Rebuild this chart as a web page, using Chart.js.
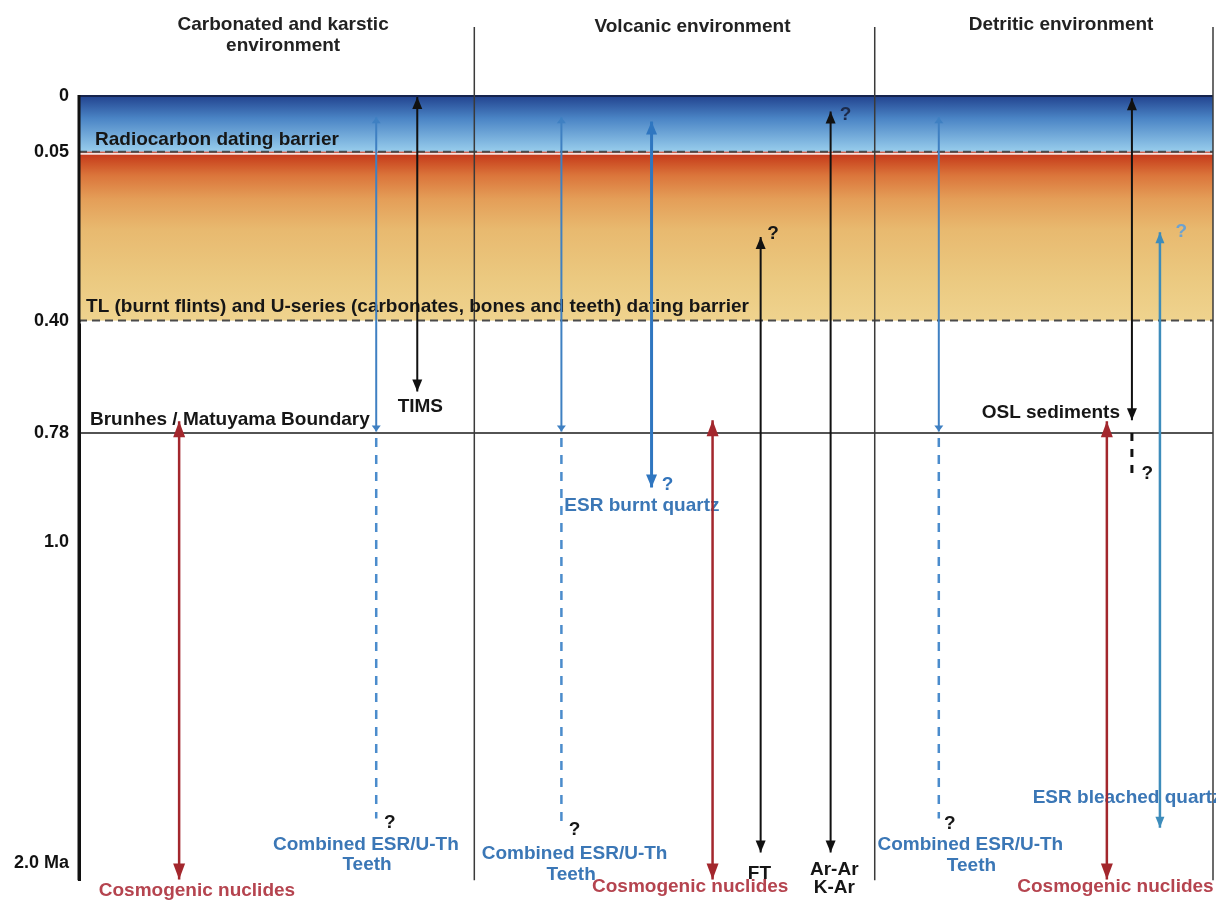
<!DOCTYPE html>
<html><head><meta charset="utf-8">
<script src="https://cdn.jsdelivr.net/npm/chart.js@4/dist/chart.umd.min.js"></script>
<style>html,body{margin:0;padding:0;background:#fff}#wrap{width:1216px;height:901px;position:relative}</style>
</head><body><div id="wrap"><canvas id="c"></canvas></div>
<script>
// ---------------- data ----------------
const tickValues = [0, 0.05, 0.40, 0.78, 1.0, 2.0];
const tickLabels = ['0', '0.05', '0.40', '0.78', '1.0', '2.0 Ma'];
const radiocarbonBarrier = 0.05;
const tlUseriesBarrier = 0.40;
const brunhesMatuyama = 0.78;
const envDividers = [34.86, 70.17, 100];   // lane units (0-100 across diagram)

const methodNames = ['Cosmogenic nuclides', 'Combined ESR/U-Th Teeth', 'TIMS',
  'Combined ESR/U-Th Teeth', 'ESR burnt quartz', 'Cosmogenic nuclides', 'FT', 'Ar-Ar K-Ar',
  'Combined ESR/U-Th Teeth', 'Cosmogenic nuclides', 'OSL sediments', 'ESR bleached quartz'];
const methodLane = [8.83, 26.21, 29.83, 42.54, 50.49, 55.87, 60.11, 66.28, 75.82, 90.64, 92.85, 95.32];
const minAge = [0.74, 0.019, 0.001, 0.019, 0.023, 0.737, 0.227, 0.014, 0.019, 0.74, 0.002, 0.217];
const maxAge = [2.05, 0.775, 0.64, 0.775, 0.89, 2.05, 1.966, 1.966, 0.775, 2.05, 0.737, 1.889];
const uncertainFrom = [null, 0.79, null, 0.79, null, null, null, null, 0.79, null, 0.78, null];
const uncertainTo = [null, 1.86, null, 1.87, null, null, null, null, 1.86, null, 0.866, null];
const methodKind = ['cosmo', 'esrTeeth', 'black', 'esrTeeth', 'esrQuartz', 'cosmo', 'black', 'black',
  'esrTeeth', 'cosmo', 'black', 'esrBleached'];

// ---------------- styles ----------------
const FONT = "'Liberation Sans', Arial, sans-serif";
const BLUE_TXT = '#3b77b6', RED_TXT = '#b5444f', BLK = '#161616';
const kindStyle = {
  cosmo:      { color: '#a3272d', width: 2.5, head: { len: 16, w: 12 }, dash: [8, 8] },
  esrTeeth:   { color: '#3f80c2', width: 2,   head: { len: 6, w: 9 },   dash: [9, 8], dashColor: '#4b8ccc', dashWidth: 2.5 },
  black:      { color: '#111111', width: 2,   head: { len: 12, w: 10 }, dash: [8, 8], dashColor: '#111111', dashWidth: 3 },
  esrQuartz:  { color: '#2f76c0', width: 3,   head: { len: 13, w: 11 }, dash: [8, 8] },
  esrBleached:{ color: '#3d8cbb', width: 2.5, head: { len: 11, w: 9 },  dash: [8, 8] }
};

// annotation texts (x in lane units, y in Ma)
const annotations = [
  { t: 'Radiocarbon dating barrier', x: 1.41, y: 0.0393, a: 'left', c: BLK },
  { t: 'TL (burnt flints) and U-series (carbonates, bones and teeth) dating barrier', x: 0.62, y: 0.371, a: 'left', c: BLK },
  { t: 'Brunhes / Matuyama Boundary', x: 0.97, y: 0.737, a: 'left', c: BLK },
  { t: 'TIMS', x: 30.1, y: 0.693, a: 'center', c: BLK },
  { t: 'OSL sediments', x: 91.8, y: 0.713, a: 'right', c: BLK },
  { t: 'ESR burnt quartz', x: 42.8, y: 0.926, a: 'left', c: BLUE_TXT },
  { t: '?', x: 51.9, y: 0.884, a: 'center', c: '#3274bb' },
  { t: '?', x: 61.2, y: 0.221, a: 'center', c: BLK },
  { t: '?', x: 67.6, y: 0.017, a: 'center', c: '#1c2a4a' },
  { t: '?', x: 97.2, y: 0.216, a: 'center', c: '#6ea2cf' },
  { t: '?', x: 94.2, y: 0.862, a: 'center', c: BLK },
  { t: '?', x: 27.4, y: 1.873, a: 'center', c: BLK },
  { t: '?', x: 43.7, y: 1.895, a: 'center', c: BLK },
  { t: '?', x: 76.8, y: 1.876, a: 'center', c: BLK },
  { t: 'Combined ESR/U-Th', x: 25.3, y: 1.941, a: 'center', c: BLUE_TXT },
  { t: 'Teeth', x: 25.4, y: 2.003, a: 'center', c: BLUE_TXT },
  { t: 'Combined ESR/U-Th', x: 43.7, y: 1.969, a: 'center', c: BLUE_TXT },
  { t: 'Teeth', x: 43.4, y: 2.037, a: 'center', c: BLUE_TXT },
  { t: 'Combined ESR/U-Th', x: 78.6, y: 1.941, a: 'center', c: BLUE_TXT },
  { t: 'Teeth', x: 78.7, y: 2.009, a: 'center', c: BLUE_TXT },
  { t: 'FT', x: 60.0, y: 2.031, a: 'center', c: BLK },
  { t: 'Ar-Ar', x: 66.6, y: 2.019, a: 'center', c: BLK },
  { t: 'K-Ar', x: 66.6, y: 2.077, a: 'center', c: BLK },
  { t: 'Cosmogenic nuclides', x: 10.4, y: 2.084, a: 'center', c: RED_TXT },
  { t: 'Cosmogenic nuclides', x: 53.9, y: 2.074, a: 'center', c: RED_TXT },
  { t: 'Cosmogenic nuclides', x: 91.4, y: 2.074, a: 'center', c: RED_TXT },
  { t: 'ESR bleached quartz', x: 84.1, y: 1.796, a: 'left', c: BLUE_TXT }
];
// column headers (x in lane units, y offset in px above plot top)
const headers = [
  { t: 'Carbonated and karstic', x: 18.0, dy: -71 },
  { t: 'environment', x: 18.0, dy: -50 },
  { t: 'Volcanic environment', x: 54.1, dy: -69 },
  { t: 'Detritic environment', x: 86.6, dy: -71 }
];

// ---------------- piecewise geological time scale ----------------
const breakFrac = [0, 0.071, 0.2864, 0.4297, 0.569, 0.9785];
class GeoTimeScale extends Chart.LinearScale {
  buildTicks() { return tickValues.map(v => ({ value: v })); }
  _frac(v) {
    const b = tickValues, f = breakFrac;
    for (let i = 0; i < b.length - 1; i++) {
      if (v <= b[i + 1]) return f[i] + (v - b[i]) / (b[i + 1] - b[i]) * (f[i + 1] - f[i]);
    }
    const n = b.length - 1;
    return f[n] + (v - b[n]) * (f[n] - f[n - 1]) / (b[n] - b[n - 1]);
  }
  getPixelForValue(v) { return this.top + this._frac(v) * (this.bottom - this.top); }
  getValueForPixel(p) {
    const fr = (p - this.top) / (this.bottom - this.top);
    const b = tickValues, f = breakFrac;
    for (let i = 0; i < b.length - 1; i++) {
      if (fr <= f[i + 1]) return b[i] + (fr - f[i]) / (f[i + 1] - f[i]) * (b[i + 1] - b[i]);
    }
    const n = b.length - 1;
    return b[n] + (fr - f[n]) * (b[n] - b[n - 1]) / (f[n] - f[n - 1]);
  }
}
GeoTimeScale.id = 'geotime';
GeoTimeScale.defaults = Chart.LinearScale.defaults;
Chart.register(GeoTimeScale);

// ---------------- datasets ----------------
const datasets = [];
methodLane.forEach((lane, i) => {
  const st = kindStyle[methodKind[i]];
  datasets.push({
    label: methodNames[i],
    data: [{ x: lane, y: minAge[i] }, { x: lane, y: maxAge[i] }],
    borderColor: st.color, backgroundColor: st.color, borderWidth: st.width,
    showLine: true, pointRadius: 0, fill: false, clip: false, heads: st.head
  });
  if (uncertainTo[i] != null) {
    datasets.push({
      label: methodNames[i] + ' (uncertain)',
      data: [{ x: lane, y: uncertainFrom[i] }, { x: lane, y: uncertainTo[i] }],
      borderColor: st.dashColor || st.color, borderWidth: st.dashWidth || st.width,
      borderDash: st.dash, showLine: true, pointRadius: 0, fill: false, clip: false
    });
  }
});

// ---------------- plugins ----------------
const backdropPlugin = {
  id: 'backdrop',
  beforeDatasetsDraw(chart) {
    const { ctx, chartArea } = chart;
    const xs = chart.scales.x, ys = chart.scales.y;
    const L = xs.getPixelForValue(0), R = xs.getPixelForValue(100);
    const y0 = ys.getPixelForValue(0), y1 = ys.getPixelForValue(radiocarbonBarrier), y2 = ys.getPixelForValue(tlUseriesBarrier);
    ctx.save();
    let g = ctx.createLinearGradient(0, y0, 0, y1);
    g.addColorStop(0, '#22438f'); g.addColorStop(0.4, '#4a84c5'); g.addColorStop(1, '#98cdec');
    ctx.fillStyle = g; ctx.fillRect(L, y0, R - L, y1 - y0);
    g = ctx.createLinearGradient(0, y1, 0, y2);
    g.addColorStop(0, '#c0321a'); g.addColorStop(0.06, '#cd4f25'); g.addColorStop(0.14, '#db753b');
    g.addColorStop(0.28, '#e49e58'); g.addColorStop(0.46, '#e8b96f'); g.addColorStop(0.75, '#ebc980'); g.addColorStop(1, '#efd38e');
    ctx.fillStyle = g; ctx.fillRect(L, y1, R - L, y2 - y1);
    // top border
    ctx.strokeStyle = '#16244d'; ctx.lineWidth = 2;
    ctx.beginPath(); ctx.moveTo(L, y0); ctx.lineTo(R, y0); ctx.stroke();
    // dashed barriers
    [y1, y2].forEach(yy => {
      ctx.setLineDash([]); ctx.strokeStyle = 'rgba(255,255,255,0.85)'; ctx.lineWidth = 2;
      ctx.beginPath(); ctx.moveTo(L, yy + 2); ctx.lineTo(R, yy + 2); ctx.stroke();
      ctx.setLineDash([8, 5]); ctx.strokeStyle = '#4a4a4a'; ctx.lineWidth = 2;
      ctx.beginPath(); ctx.moveTo(L, yy); ctx.lineTo(R, yy); ctx.stroke();
    });
    ctx.setLineDash([]);
    // Brunhes / Matuyama
    const yb = ys.getPixelForValue(brunhesMatuyama);
    ctx.strokeStyle = '#1a1a1a'; ctx.lineWidth = 1.5;
    ctx.beginPath(); ctx.moveTo(L, yb); ctx.lineTo(R, yb); ctx.stroke();
    // environment dividers
    ctx.strokeStyle = '#3a3a3a'; ctx.lineWidth = 1.5;
    envDividers.forEach(d => {
      const xx = xs.getPixelForValue(d);
      ctx.beginPath(); ctx.moveTo(xx, chartArea.top - 69); ctx.lineTo(xx, chartArea.bottom); ctx.stroke();
    });
    // left time axis line on top of bands
    ctx.strokeStyle = '#111'; ctx.lineWidth = 3;
    ctx.beginPath(); ctx.moveTo(L, chartArea.top - 1); ctx.lineTo(L, chartArea.bottom); ctx.stroke();
    // texts
    ctx.font = 'bold 19px ' + FONT;
    ctx.textBaseline = 'middle';
    annotations.forEach(a => {
      ctx.fillStyle = a.c; ctx.textAlign = a.a;
      ctx.fillText(a.t, xs.getPixelForValue(a.x), ys.getPixelForValue(a.y));
    });
    ctx.fillStyle = '#222'; ctx.textAlign = 'center';
    headers.forEach(h => ctx.fillText(h.t, xs.getPixelForValue(h.x), chartArea.top + h.dy));
    ctx.restore();
  }
};

const arrowPlugin = {
  id: 'arrowheads',
  afterDatasetsDraw(chart) {
    const ctx = chart.ctx;
    chart.data.datasets.forEach((ds, i) => {
      if (!ds.heads) return;
      const pts = chart.getDatasetMeta(i).data;
      if (pts.length < 2) return;
      const p0 = pts[0], p1 = pts[1];
      const draw = (tip, from) => {
        const dx = tip.x - from.x, dy = tip.y - from.y;
        const len = Math.hypot(dx, dy) || 1;
        const ux = dx / len, uy = dy / len;
        const bx = tip.x - ux * ds.heads.len, by = tip.y - uy * ds.heads.len;
        const hw = ds.heads.w / 2;
        ctx.beginPath();
        ctx.moveTo(tip.x, tip.y);
        ctx.lineTo(bx - uy * hw, by + ux * hw);
        ctx.lineTo(bx + uy * hw, by - ux * hw);
        ctx.closePath();
        ctx.fill();
      };
      ctx.save();
      ctx.fillStyle = ds.borderColor;
      draw(p0, p1); draw(p1, p0);
      ctx.restore();
    });
  }
};

new Chart(document.getElementById('c'), {
  type: 'scatter',
  data: { datasets },
  plugins: [backdropPlugin, arrowPlugin],
  options: {
    responsive: true, maintainAspectRatio: false, animation: false, events: [],
    layout: { padding: { top: 96, bottom: 16, right: 3, left: 0 } },
    plugins: { legend: { display: false }, tooltip: { enabled: false }, title: { display: false } },
    scales: {
      x: { type: 'linear', min: 0, max: 100, display: false },
      y: {
        type: 'geotime', min: 0, max: 2.053,
        afterFit(scale) { scale.width = 79; },
        grid: { display: false, drawTicks: false },
        border: { display: true, color: '#111', width: 3 },
        ticks: {
          autoSkip: false, padding: 10, color: '#111',
          font: { family: FONT, size: 18, weight: 'bold' },
          callback: (v, i) => tickLabels[i]
        }
      }
    }
  }
});
</script>
</body></html>
